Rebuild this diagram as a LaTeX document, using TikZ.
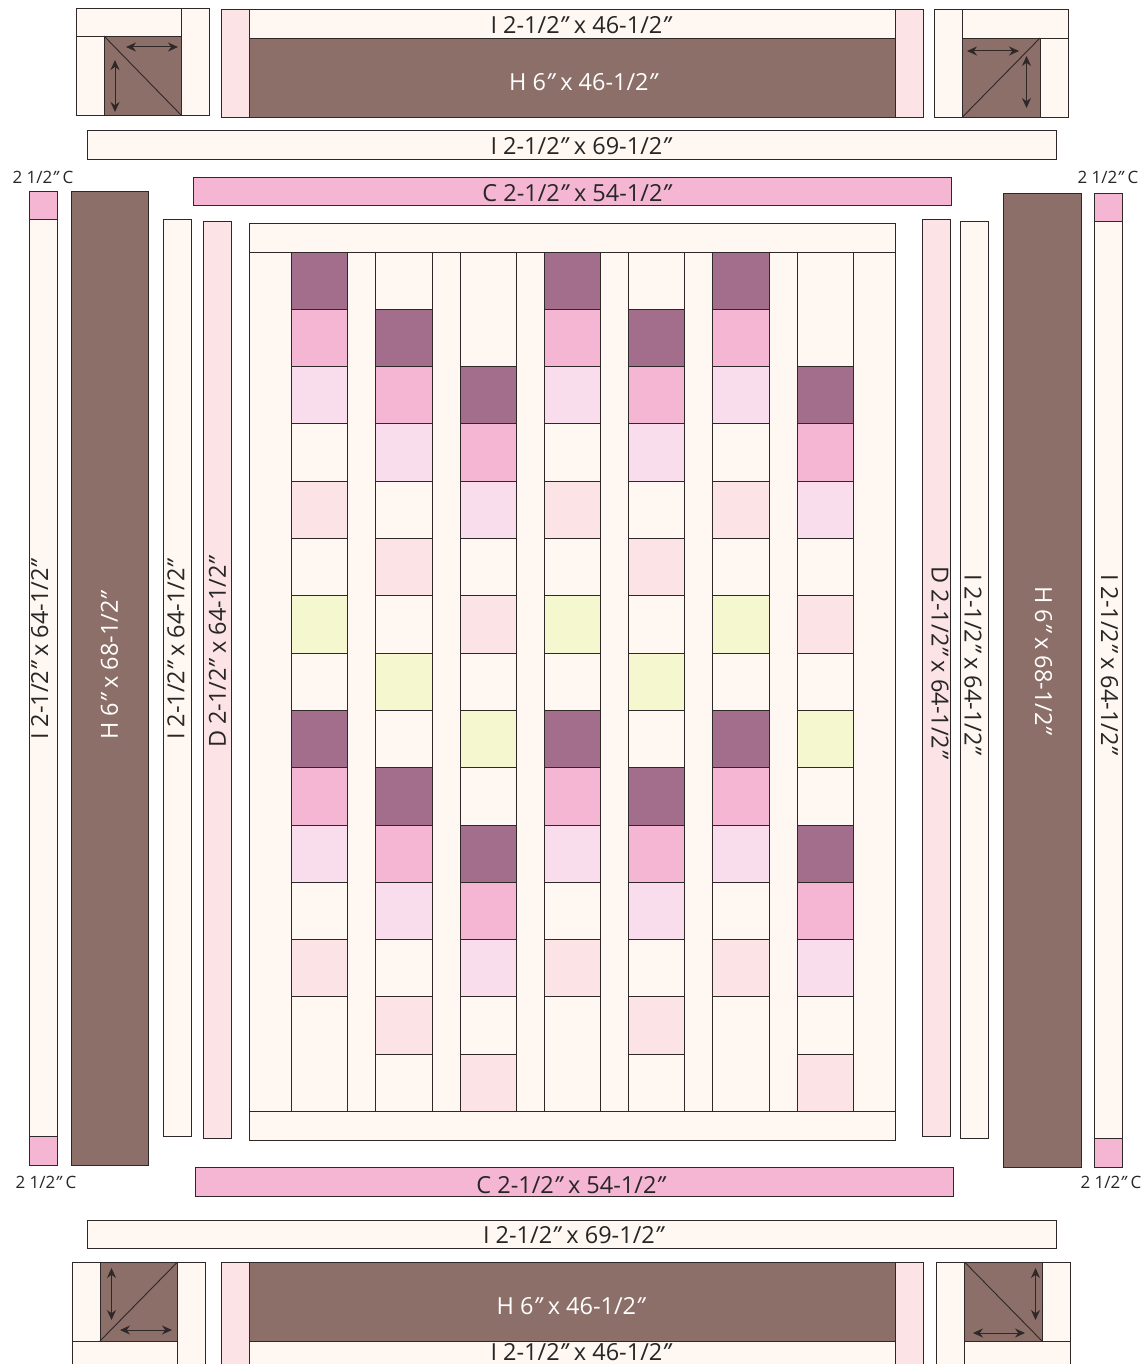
\documentclass[tikz,border=0pt]{standalone}
\usepackage{fontspec}
\setmainfont{Open Sans}
\usetikzlibrary{arrows.meta}
\definecolor{qcream}{HTML}{FFF7F1}
\definecolor{qblush}{HTML}{FCE4E6}
\definecolor{qlight}{HTML}{FADDEC}
\definecolor{qpink}{HTML}{F5B6D3}
\definecolor{qplum}{HTML}{A36E8C}
\definecolor{qbrown}{HTML}{8C6F68}
\definecolor{qlime}{HTML}{F5F8CF}
\definecolor{qline}{HTML}{2E2828}
\tikzset{
  patch/.style={draw=qline, line width=0.9pt},
  grain/.style={qline, line width=1pt, {Stealth[length=10pt,width=9pt]}-{Stealth[length=10pt,width=9pt]}},
  cut/.style={text=black!85, font=\fontsize{23.5}{23.5}\selectfont, inner sep=0pt},
  cutwhite/.style={cut, text=white},
  small/.style={text=black!85, font=\fontsize{17}{17}\selectfont, inner sep=0pt}
}
\newcommand{\inch}{{\itshape\symbol{34}}}

\begin{document}
\begin{tikzpicture}[x=1pt, y=-1pt]
    \clip (0,0) rectangle (1146,1364);
    % corner blocks
    \fill[patch, fill=qcream] (76,8) rectangle (181,36);
    \fill[patch, fill=qcream] (181,8) rectangle (209,115);
    \fill[patch, fill=qcream] (76,36) rectangle (104,115);
    \fill[patch, fill=qbrown] (104,36) rectangle (181,115);
    \draw[patch] (104,36) -- (181,115);
    \draw[grain] (126,47) -- (178,47);
    \draw[grain] (115,60) -- (115,112);

    \fill[patch, fill=qcream] (934,9) rectangle (962.5,117);
    \fill[patch, fill=qcream] (962.5,9) rectangle (1068,38);
    \fill[patch, fill=qcream] (1040,38) rectangle (1068,117);
    \fill[patch, fill=qbrown] (962.5,38) rectangle (1040,117);
    \draw[patch] (962.5,117) -- (1040,38);
    \draw[grain] (967,51) -- (1019,51);
    \draw[grain] (1026.5,56) -- (1026.5,108);

    \fill[patch, fill=qcream] (72,1262) rectangle (100,1341);
    \fill[patch, fill=qcream] (72,1341) rectangle (177.5,1370);
    \fill[patch, fill=qcream] (177.5,1262) rectangle (205.5,1370);
    \fill[patch, fill=qbrown] (100,1262) rectangle (177.5,1341);
    \draw[patch] (100,1341) -- (177.5,1262);
    \draw[grain] (111.5,1268) -- (111.5,1320);
    \draw[grain] (120,1330) -- (172,1330);

    \fill[patch, fill=qcream] (936.5,1262) rectangle (964.5,1370);
    \fill[patch, fill=qcream] (964.5,1341) rectangle (1070,1370);
    \fill[patch, fill=qcream] (1042,1262) rectangle (1070,1341);
    \fill[patch, fill=qbrown] (964.5,1262) rectangle (1042,1341);
    \draw[patch] (964.5,1262) -- (1042,1341);
    \draw[grain] (1035.5,1268) -- (1035.5,1320);
    \draw[grain] (973,1333) -- (1025,1333);

    % top and bottom borders
    \fill[patch, fill=qblush] (221,9) rectangle (249,117);
    \fill[patch, fill=qblush] (895,9) rectangle (923,117);
    \fill[patch, fill=qcream] (249,9) rectangle (895,38);
    \fill[patch, fill=qbrown] (249,38) rectangle (895,117);
    \fill[patch, fill=qcream] (87.5,130.5) rectangle (1056,159);
    \fill[patch, fill=qpink] (193,177) rectangle (951,205.5);
    \fill[patch, fill=qpink] (195,1167.5) rectangle (953,1196);
    \fill[patch, fill=qcream] (87.5,1220) rectangle (1056,1248.5);
    \fill[patch, fill=qblush] (221,1262) rectangle (249,1370);
    \fill[patch, fill=qblush] (895,1262) rectangle (923,1370);
    \fill[patch, fill=qbrown] (249,1262) rectangle (895,1341);
    \fill[patch, fill=qcream] (249,1341) rectangle (895,1370);

    % side borders
    \fill[patch, fill=qpink] (29,191) rectangle (57,219);
    \fill[patch, fill=qcream] (29,219) rectangle (57,1136);
    \fill[patch, fill=qpink] (29,1136) rectangle (57,1165);
    \fill[patch, fill=qbrown] (71,191) rectangle (148,1165);
    \fill[patch, fill=qcream] (163.5,219) rectangle (191.5,1136);
    \fill[patch, fill=qblush] (203.5,221) rectangle (231.5,1138);
    \fill[patch, fill=qblush] (922,219) rectangle (950.5,1136);
    \fill[patch, fill=qcream] (960,221) rectangle (988,1138);
    \fill[patch, fill=qbrown] (1003.5,193) rectangle (1081,1167);
    \fill[patch, fill=qpink] (1094.5,193) rectangle (1122.5,221);
    \fill[patch, fill=qcream] (1094.5,221) rectangle (1122.5,1138);
    \fill[patch, fill=qpink] (1094.5,1138) rectangle (1122.5,1167);

    % quilt centre
    \fill[qcream] (249,252) rectangle (895,1111.5);
    \draw[patch] (249,252) -- (249,1111.5) (895,252) -- (895,1111.5);
    \fill[patch, fill=qcream] (249,223) rectangle (895,252);
    \fill[patch, fill=qcream] (249,1111.5) rectangle (895,1140);
    \foreach \colx/\first in {291/0, 375.5/1, 460/2, 544/0, 628/1, 712.5/0, 797/2}{
      \draw[patch] (\colx,252) -- ++(0,859.5) (\colx+56.5,252) -- ++(0,859.5);
      \foreach \shade [count=\n from 0] in {qplum,qpink,qlight,qcream,qblush,qcream,qlime,qcream,qplum,qpink,qlight,qcream,qblush}{
        \pgfmathsetmacro{\ytop}{252+57.3*(\n+\first)}
        \fill[patch, fill=\shade] (\colx,\ytop) rectangle ++(56.5,57.3);
      }
    }

    % labels
    \node[cut] (itopa) at (580.5,25) {I 2-1/2\inch{} x 46-1/2\inch};
    \node[cutwhite] (htop) at (583,82) {H 6\inch{} x 46-1/2\inch};
    \node[cut] (itopb) at (580.5,146) {I 2-1/2\inch{} x 69-1/2\inch};
    \node[cut] (ctop) at (576.5,193) {C 2-1/2\inch{} x 54-1/2\inch};
    \node[cut] (cbot) at (570.5,1185) {C 2-1/2\inch{} x 54-1/2\inch};
    \node[cut] (ibota) at (573,1235) {I 2-1/2\inch{} x 69-1/2\inch};
    \node[cutwhite] (hbot) at (570.5,1306) {H 6\inch{} x 46-1/2\inch};
    \node[cut] (ibotb) at (580.5,1352.5) {I 2-1/2\inch{} x 46-1/2\inch};
    \node[small] (ctl) at (43,177) {2 1/2\inch{} C};
    \node[small] (ctr) at (1108,177) {2 1/2\inch{} C};
    \node[small] (cbl) at (46,1182) {2 1/2\inch{} C};
    \node[small] (cbr) at (1111,1182) {2 1/2\inch{} C};
    \node[cut, rotate=90] (ileft) at (39.7,650) {I 2-1/2\inch{} x 64-1/2\inch};
    \node[cutwhite, rotate=90] (hleft) at (109.5,666) {H 6\inch{} x 68-1/2\inch};
    \node[cut, rotate=90] (ileftb) at (176,650) {I 2-1/2\inch{} x 64-1/2\inch};
    \node[cut, rotate=90] (dleft) at (217.5,652.5) {D 2-1/2\inch{} x 64-1/2\inch};
    \node[cut, rotate=-90] (dright) at (940,662) {D 2-1/2\inch{} x 64-1/2\inch};
    \node[cut, rotate=-90] (irightb) at (973,664) {I 2-1/2\inch{} x 64-1/2\inch};
    \node[cutwhite, rotate=-90] (hright) at (1043.5,660) {H 6\inch{} x 68-1/2\inch};
    \node[cut, rotate=-90] (iright) at (1109.5,664) {I 2-1/2\inch{} x 64-1/2\inch};
\end{tikzpicture}
\end{document}
